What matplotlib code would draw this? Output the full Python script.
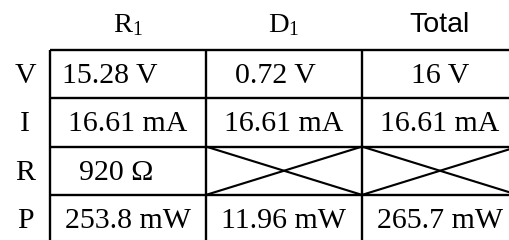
import matplotlib
matplotlib.use("Agg")
import matplotlib.pyplot as plt

# ── table content ─────────────────────────────────────────────
col_labels = [r"$\mathrm{R}_1$", r"$\mathrm{D}_1$", "Total"]
row_labels = ["V", "I", "R", "P"]
cells = [
    ["15.28 V",   "0.72 V",   "16 V"],
    ["16.61 mA",  "16.61 mA", "16.61 mA"],
    ["920 \u03a9", None,      None],
    ["253.8 mW",  "11.96 mW", "265.7 mW"],
]
# ──────────────────────────────────────────────────────────────

plt.rcParams["mathtext.fontset"] = "custom"
plt.rcParams["mathtext.rm"] = "Liberation Serif"
plt.rcParams["mathtext.it"] = "Liberation Serif:italic"

W, H = 509, 240
X0, Y0 = 50, 50          # top-left corner of the grid
CW, RH = 156, 48.3       # cell width / row height
FS = 21.5
LW = 1.7
# a few cells in the original sit left of centre
NUDGE = {(0, 0): -18, (0, 1): -9, (2, 0): -12}

fig = plt.figure(figsize=(W / 100, H / 100), dpi=100)
ax = fig.add_axes([0, 0, 1, 1])
ax.set_xlim(0, W)
ax.set_ylim(H, 0)
ax.axis("off")

ncol, nrow = len(col_labels), len(row_labels)
x_right = X0 + CW * ncol
y_bot = Y0 + RH * nrow

# grid lines (open at the right and bottom, as in the picture)
for i in range(nrow):
    y = Y0 + RH * i
    ax.plot([X0, x_right], [y, y], color="black", lw=LW, solid_capstyle="butt")
for j in range(ncol):
    x = X0 + CW * j
    ax.plot([x, x], [Y0, y_bot], color="black", lw=LW, solid_capstyle="butt")

# headers
for j, lab in enumerate(col_labels):
    cx = X0 + CW * (j + 0.5)
    fam = "Liberation Sans" if lab == "Total" else "Liberation Serif"
    ax.text(cx, 25, lab, ha="center", va="center", fontsize=FS - 1,
            family=fam)

for i, lab in enumerate(row_labels):
    cy = Y0 + RH * (i + 0.5)
    ax.text(25, cy + 2, lab, ha="center", va="center", fontsize=FS,
            family="Liberation Serif")

# cells
for i, row in enumerate(cells):
    for j, val in enumerate(row):
        x1, y1 = X0 + CW * j, Y0 + RH * i
        if val is None:
            ax.plot([x1, x1 + CW], [y1, y1 + RH], color="black", lw=LW * 0.9)
            ax.plot([x1, x1 + CW], [y1 + RH, y1], color="black", lw=LW * 0.9)
            continue
        dx = NUDGE.get((i, j), 0)
        ax.text(x1 + CW / 2 + dx, y1 + RH / 2 + 2, val, ha="center",
                va="center", fontsize=FS, family="Liberation Serif")

fig.savefig("out.png", dpi=100)
